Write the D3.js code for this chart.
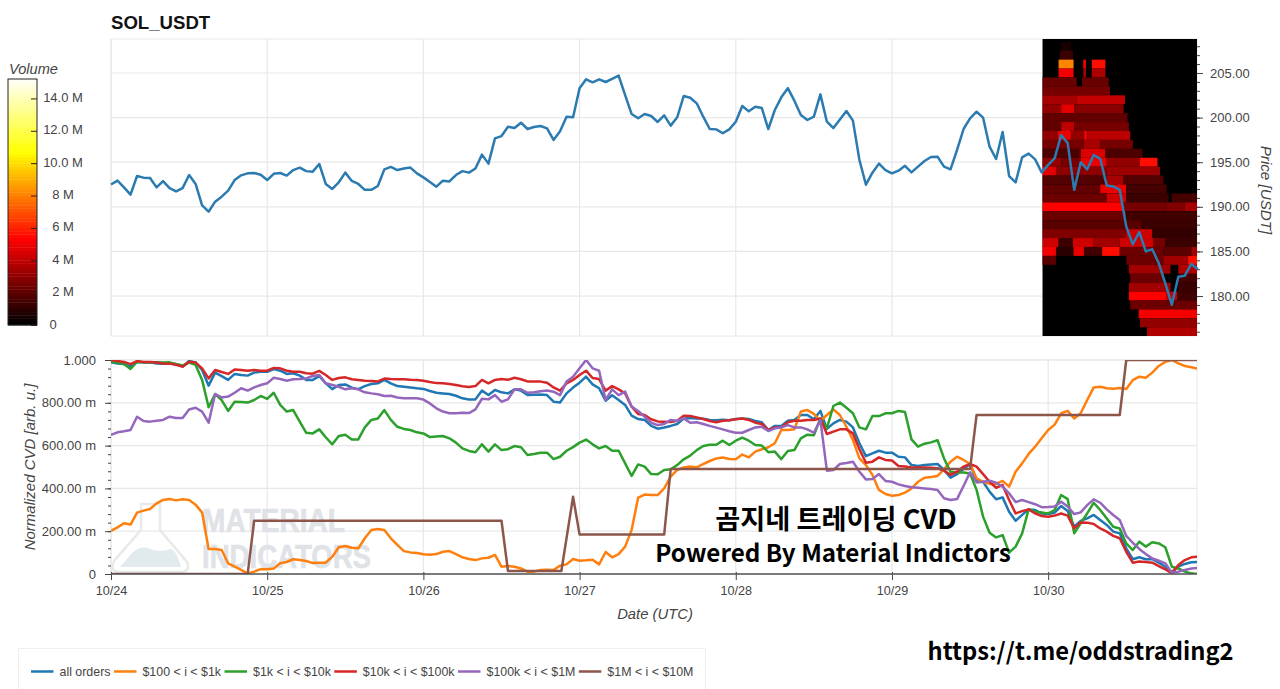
<!DOCTYPE html>
<html><head><meta charset="utf-8">
<script src="https://cdn.jsdelivr.net/npm/d3@7/dist/d3.min.js"></script>
<style>
html,body{margin:0;padding:0;background:#fff;overflow:hidden}
text{font-family:"Liberation Sans",Arial,sans-serif}
</style></head><body><svg id="c" width="1280" height="689"></svg>
<script>
const title = "SOL_USDT";
const dayTicks = [0,24,48,72,96,120,144];
const dayLabels = ["10/24","10/25","10/26","10/27","10/28","10/29","10/30"];
const priceTicks = [180,185,190,195,200,205];
const cvdTicks = [0,200,400,600,800,1000];
const cvdTickLabels = ["0","200.00 m","400.00 m","600.00 m","800.00 m","1.000"];
const volumeTicks = [0,2,4,6,8,10,12,14];
const volumeTickLabels = ["0","2 M","4 M","6 M","8 M","10.0 M","12.0 M","14.0 M"];
const seriesNames = ["all orders","$100 < i < $1k","$1k < i < $10k","$10k < i < $100k","$100k < i < $1M","$1M < i < $10M"];
const seriesColors = ["#1f77b4","#ff7f0e","#2ca02c","#d62728","#9467bd","#8c564b"];

// hourly close price
const price = [192.5,192.93,192.18,191.36,193.45,193.27,193.23,192.18,192.89,192.1,
191.73,192.1,193.56,192.56,190.16,189.45,190.58,191.14,191.81,193.0,
193.53,193.75,193.79,193.6,193.0,193.7,193.79,193.5,194.12,194.39,
194.0,193.94,194.8,192.56,192.0,192.75,193.83,192.9,192.56,191.9,
191.9,192.33,194.2,194.47,194.12,194.3,194.4,193.75,193.3,192.78,
192.26,192.93,192.85,193.56,194.0,193.83,194.3,195.85,194.84,197.67,
197.93,198.98,198.83,199.43,198.72,198.95,199.06,198.8,197.5,198.46,
200.1,200.03,203.28,204.29,203.95,204.29,203.99,204.33,204.7,202.53,
200.4,199.92,200.4,200.18,199.51,200.25,199.1,200.03,202.42,202.23,
201.6,200.1,198.72,198.68,198.24,198.68,199.54,201.3,200.7,201.22,
201.07,198.72,200.85,202.27,203.3,201.9,200.29,199.73,200.1,202.6,
199.54,198.83,199.8,200.74,199.66,195.25,192.48,193.83,194.84,194.12,
193.75,194.05,194.6,193.86,194.5,195.13,195.58,195.62,194.5,194.2,
196.37,198.72,199.92,200.66,199.99,196.74,195.36,198.38,193.45,192.74,
195.55,195.96,195.32,193.86,194.7,195.46,198.04,197.14,191.9,195.0,
194.2,195.8,195.38,192.4,192.28,191.9,187.8,185.8,187.18,185.0,
185.24,183.67,181.42,179.03,182.17,182.28,183.6,183.0];

// normalized CVD, hourly, in milli-units
const cvdAll = [989,984,981,969,991,988,989,984,983,984,
980,969,995,989,953,880,941,925,907,935,
930,927,941,945,945,958,950,935,938,927,
907,907,925,891,864,883,886,871,864,878,
888,891,907,891,878,875,872,868,865,855,
847,844,841,833,821,815,816,857,836,860,
849,844,863,857,836,838,839,836,805,801,
844,871,894,922,886,868,810,835,813,790,
740,724,720,692,679,685,692,701,726,729,
727,726,720,718,721,718,724,727,724,715,
709,673,692,692,716,720,743,743,723,762,
678,704,720,712,685,611,551,564,576,567,
567,548,545,509,505,509,512,514,486,450,
467,491,514,436,431,385,349,358,291,249,
276,302,299,283,280,287,318,294,221,248,
260,276,252,229,198,190,120,69,78,69,
69,53,34,9,34,47,55,56];
const cvd100 = [201,218,237,231,287,296,304,330,346,350,
344,349,346,324,287,117,117,112,50,34,
19,2,11,23,22,26,50,56,69,65,
61,51,53,53,81,125,131,123,120,167,
206,210,206,167,136,107,101,98,92,90,
93,104,107,93,78,70,65,73,76,89,
34,37,34,26,11,11,19,20,19,39,
45,70,62,64,67,45,103,78,93,128,
206,357,371,369,369,400,455,486,498,502,
498,514,528,540,544,537,536,558,545,572,
583,592,611,673,673,676,759,766,748,716,
743,769,743,688,626,540,509,463,393,374,
366,369,380,400,431,450,453,458,489,525,
548,533,514,447,431,421,421,435,408,478,
517,561,595,634,673,698,751,762,727,751,
813,872,875,868,866,869,864,906,922,917,
941,972,991,1000,984,972,966,959];
const cvd1k = [992,988,981,958,992,989,989,989,988,989,
981,974,988,977,907,779,841,813,762,805,
804,801,813,832,818,847,790,759,766,712,
660,657,676,639,606,645,651,629,629,685,
720,727,766,720,688,678,673,662,657,640,
643,645,634,614,587,575,569,606,572,606,
579,583,598,592,556,561,567,567,537,548,
576,593,614,628,606,587,598,576,576,517,
458,512,502,467,466,486,489,509,536,553,
579,598,604,604,623,603,623,637,623,603,
600,569,572,537,575,579,634,651,648,727,
681,785,801,777,751,685,676,738,738,751,
751,762,757,629,595,609,615,625,540,478,
474,474,470,393,268,193,171,182,100,128,
190,302,291,287,283,299,369,350,190,237,
283,333,299,260,221,213,143,112,151,128,
148,143,125,34,26,11,3,0];
const cvd10k = [1000,995,991,981,995,991,991,988,984,983,
978,969,992,988,961,914,953,944,935,956,
953,950,953,950,950,963,961,950,945,945,
938,936,949,930,907,916,919,910,907,903,
902,900,913,911,910,910,908,907,903,897,
892,891,888,883,877,874,878,907,891,907,
911,908,917,910,900,899,899,894,872,857,
891,907,930,950,916,911,857,878,863,844,
782,748,743,723,713,712,710,716,740,738,
732,724,715,709,716,718,723,727,720,707,
701,673,685,685,709,716,716,720,720,727,
654,665,676,676,657,583,520,525,545,533,
530,505,502,498,498,498,497,494,483,463,
478,502,514,502,467,431,403,416,346,283,
294,302,283,271,268,273,283,273,213,241,
240,234,213,198,178,167,104,53,58,56,
53,37,22,3,42,65,78,81];
const cvd100k = [650,662,667,673,735,715,712,716,720,735,
729,729,769,777,759,707,841,825,829,847,
868,857,872,883,891,917,911,903,910,911,
914,925,930,891,883,875,863,868,863,849,
844,840,832,833,825,821,821,821,815,797,
774,759,751,751,754,752,769,819,816,836,
805,816,863,863,847,849,854,857,852,836,
899,922,961,1000,961,950,813,863,836,852,
782,762,735,707,696,701,720,716,727,707,
709,701,692,684,676,667,660,660,673,685,
688,668,681,685,696,685,685,676,660,720,
483,486,514,519,525,478,442,444,467,435,
431,419,411,405,403,400,397,393,354,346,
350,411,475,428,431,436,427,408,377,336,
346,336,326,312,313,315,338,315,280,288,
322,349,333,302,276,252,178,146,117,93,
73,62,50,6,11,19,26,28];
// sparse: [hour, value]
const cvd1m = [[0,0],[21,0],[22,249],[60,249],[61,14],[69.2,14],[71,361],[72,184],[85,184],[86,491],[132,491],[133,743],[155,743],[156,1000],[166.87,1000]];

// liquidity heat map bands: [price bin, hour from, hour to, volume in M]
const heatBands = [
[208,146,147.5,0.5],[207,145.8,147.8,1.2],
[206,145.6,147.9,8],[206,149.4,149.8,5.2],[206,150.7,152.8,5.5],
[205,145.6,147.9,5],[205,149.4,149.8,3.5],[205,150.7,152.8,3.5],
[204,143.1,148.4,2.1],[204,149.2,153.3,2.1],
[203,143.1,153.5,2.4],
[202,143.1,148.4,3.4],[202,148.4,155.8,4.0],
[201,143.1,146,3.0],[201,146,148,4.6],[201,148,155.6,2.8],
[200,143.1,156.2,2.0],
[199,143.1,146,2.0],[199,146,148,3.9],[199,148,156.4,2.4],
[198,143.1,145.5,3.0],[198,145.5,147.5,4.8],[198,147.5,149.5,3.0],[198,149.5,150,4.8],[198,150,156.6,3.8],
[197,143.1,149.5,2.4],[197,149.5,152,3.4],[197,152,157,2.4],
[196,143.1,149,1.6],[196,149,152.8,4.5],[196,152.8,158.5,1.6],
[195,143.1,146,3.0],[195,146,149,2.4],[195,149,153,4.8],[195,153,158.1,3.0],[195,158.1,160.8,5.5],
[194,143.1,145.2,4.6],[194,145.2,153,2.9],[194,153,161.2,3.2],
[193,143.1,153,1.7],[193,153,155.5,3.4],[193,155.5,161.7,1.7],
[192,143.1,152,2.0],[192,152,156,4.8],[192,156,162.2,1.4],
[191,143.1,153,2.2],[191,153,156,4.2],[191,156,162.5,1.2],[191,163,166.9,1.4],
[190,143.1,155.5,5.2],[190,155.5,162,2.4],[190,162,165,2.6],[190,165,166.9,3.4],
[189,143.1,156,2.2],[189,156,166.9,1.3],
[188,143.1,158.5,1.8],[188,158.5,166.9,1.2],
[187,143.1,156,2.6],[187,156,160,4.2],[187,160,166.9,1.0],
[186,143.1,145.6,4.2],[186,145.6,147.8,1.2],[186,147.8,151,4.2],[186,151,155,3.3],[186,155,160.2,4.2],[186,160.2,162,2.4],[186,162,166.9,1.2],
[185,143.1,145.2,5.0],[185,145.2,147.9,0.9],[185,147.9,149.5,4.8],[185,149.5,152.3,1.3],[185,152.3,155,5.5],[185,155,161.7,2.2],[185,161.7,166,1.9],[185,166,166.9,3.4],
[184,143.1,145.2,1.8],[184,156,161.7,2.2],[184,161.7,165.5,3.3],[184,165.5,166.9,5.5],
[183,156.4,162.8,3.3],[183,164,166.9,3.6],
[182,156.6,161.7,2.2],[182,164,166.9,1.4],
[181,156.4,162.8,3.3],[181,164,166.9,1.2],
[180,156.4,162.2,5.2],[180,162.2,163.8,4.0],[180,163.8,166.9,1.3],
[179,156.6,166.9,2.2],
[178,157.9,166.9,5.0],
[177,158.1,166.9,3.0],
[176,159.2,166.9,3.6]];

const W=1280,H=689;
const svg=d3.select("#c");
const L=111,R=1197;
const x=d3.scaleLinear().domain([0,166.87]).range([L,R]);
const yP=d3.scaleLinear().domain([175.52,208.81]).range([336,39]);
const yC=d3.scaleLinear().domain([0,1000]).range([574,360]);
const heatColor=d3.scaleLinear().domain([0,5.2,10.6,15.2]).range(["#000000","#ff0000","#ffff00","#ffffff"]);
const yV=d3.scaleLinear().domain([0,15.2]).range([325,79]);
const gridC="#e8e8e8", axisC="#444", txtC="#444";

const defs=svg.append("defs");
defs.append("clipPath").attr("id","cvdClip").append("rect").attr("x",L).attr("y",360).attr("width",R-L).attr("height",214);
defs.append("clipPath").attr("id","heatClip").append("rect").attr("x",x(143.1)).attr("y",39).attr("width",R-x(143.1)).attr("height",297);
defs.append("filter").attr("id","soft").append("feGaussianBlur").attr("stdDeviation",0.6);

// title
svg.append("text").attr("x",111).attr("y",29).attr("font-size",18.6).attr("font-weight",700).attr("fill","#111").text(title);

// panels: grid
function frame(yTop,yBot,ticks,yS){
  const g=svg.append("g");
  g.append("rect").attr("x",L).attr("y",yTop).attr("width",R-L).attr("height",yBot-yTop).attr("fill","none").attr("stroke",gridC);
  g.selectAll("line.v").data(dayTicks).join("line").attr("x1",d=>x(d)).attr("x2",d=>x(d)).attr("y1",yTop).attr("y2",yBot).attr("stroke",gridC).attr("stroke-width",1.2);
  g.selectAll("line.h").data(ticks).join("line").attr("class","h").attr("x1",L).attr("x2",R).attr("y1",d=>yS(d)).attr("y2",d=>yS(d)).attr("stroke",gridC).attr("stroke-width",1.2);
}
frame(39,336,priceTicks,yP);
frame(360,574,cvdTicks,yC);

// watermark
const wm=svg.append("g");
wm.append("path").attr("d","M146,504 L160,504 L160,530 L187,562 Q191,572 180,572 L120,572 Q109,572 114,561 L141,530 L141,504 Z").attr("fill","none").attr("stroke","#e9e9e9").attr("stroke-width",2.5);
wm.append("path").attr("d","M120,567 L133,552 Q143,545 150,549 Q162,553 170,549 Q176,549 181,567 Z").attr("fill","#e1eaed");
wm.append("text").attr("x",202).attr("y",532).attr("font-size",33).attr("font-weight",700).attr("fill","#dfe3e7").attr("stroke","#dfe3e7").attr("stroke-width",0.7).attr("textLength",143).attr("lengthAdjust","spacingAndGlyphs").text("MATERIAL");
wm.append("text").attr("x",202).attr("y",568).attr("font-size",33).attr("font-weight",700).attr("fill","#dfe3e7").attr("stroke","#dfe3e7").attr("stroke-width",0.7).attr("textLength",169).attr("lengthAdjust","spacingAndGlyphs").text("INDICATORS");

// heat map
const heatOuter=svg.append("g").attr("clip-path","url(#heatClip)");
heatOuter.append("rect").attr("x",x(143.1)).attr("y",39).attr("width",R-x(143.1)).attr("height",297).attr("fill",heatColor(0));
const heatG=heatOuter.append("g").attr("filter","url(#soft)");
heatG.selectAll("rect.b").data(heatBands).join("rect").attr("class","b")
 .attr("x",d=>x(d[1])).attr("width",d=>x(d[2])-x(d[1]))
 .attr("y",d=>yP(d[0]+0.5)).attr("height",d=>yP(d[0]-0.5)-yP(d[0]+0.5))
 .attr("fill",d=>heatColor(d[3]));

// price line
const lineFn=(ys)=>d3.line().x((d,i)=>x(i)).y(d=>ys(d));
svg.append("path").attr("d",lineFn(yP)(price)).attr("fill","none").attr("stroke","#2b7bb0").attr("stroke-width",2.5).attr("stroke-linejoin","round");

// CVD lines
const cvdG=svg.append("g").attr("clip-path","url(#cvdClip)");
[cvdAll,cvd100,cvd1k,cvd10k,cvd100k].forEach((s,i)=>{
  cvdG.append("path").attr("d",lineFn(yC)(s)).attr("fill","none").attr("stroke",seriesColors[i]).attr("stroke-width",2.5).attr("stroke-linejoin","round");
});
cvdG.append("path").attr("d",d3.line().x(d=>x(d[0])).y(d=>yC(d[1]))(cvd1m)).attr("fill","none").attr("stroke",seriesColors[5]).attr("stroke-width",2.5).attr("stroke-linejoin","round");

// axes
function style(g){g.selectAll("text").attr("fill",txtC).attr("font-size",13).attr("font-family",'"Liberation Sans",Arial,sans-serif');g.selectAll("line").attr("stroke",axisC).attr("stroke-width",1);g.select(".domain").remove();}
const axR=svg.append("g").attr("transform",`translate(${R},0)`).call(d3.axisRight(yP).tickValues(priceTicks).tickFormat(d3.format(".2f")).tickSize(6).tickPadding(7));
style(axR);
const axRm=svg.append("g").attr("transform",`translate(${R},0)`).call(d3.axisRight(yP).tickValues(d3.range(176,209)).tickFormat("").tickSize(3));
style(axRm);
const axL=svg.append("g").attr("transform",`translate(${L},0)`).call(d3.axisLeft(yC).tickValues(cvdTicks).tickFormat((d,i)=>cvdTickLabels[i]).tickSize(6).tickPadding(9));
style(axL);
const axLm=svg.append("g").attr("transform",`translate(${L},0)`).call(d3.axisLeft(yC).tickValues(d3.range(0,1001,40)).tickFormat("").tickSize(3));
style(axLm);
const axB=svg.append("g").attr("transform","translate(0,574)").call(d3.axisBottom(x).tickValues(dayTicks).tickFormat((d,i)=>dayLabels[i]).tickSize(6).tickPadding(6));
style(axB); axB.selectAll("line").attr("y1",-2);
axB.selectAll("text").attr("font-size",12.6);
svg.append("line").attr("x1",L).attr("x2",R).attr("y1",574).attr("y2",574).attr("stroke","#555").attr("stroke-width",1.6);

// axis titles
svg.append("text").attr("x",655).attr("y",619).attr("text-anchor","middle").attr("font-size",14.8).attr("font-style","italic").attr("fill",txtC).text("Date (UTC)");
svg.append("text").attr("transform","translate(1261,190) rotate(90)").attr("text-anchor","middle").attr("font-size",15.2).attr("font-style","italic").attr("fill",txtC).text("Price [USDT]");
svg.append("text").attr("transform","translate(35,467) rotate(-90)").attr("text-anchor","middle").attr("font-size",15).attr("font-style","italic").attr("fill",txtC).text("Normalized CVD [arb. u.]");

// colour bar
svg.append("text").attr("x",9).attr("y",74).attr("font-size",14.6).attr("font-style","italic").attr("fill",txtC).text("Volume");
const levels=d3.range(0,15.2,0.2);
svg.append("g").selectAll("rect").data(levels).join("rect").attr("x",8).attr("width",29)
 .attr("y",d=>yV(d+0.2)).attr("height",d=>yV(d)-yV(d+0.2)+0.4).attr("fill",d=>heatColor(d));
svg.append("rect").attr("x",8).attr("y",79).attr("width",29).attr("height",246).attr("fill","none").attr("stroke","#222");
const axV=svg.append("g").attr("transform","translate(37,0)").call(d3.axisLeft(yV).tickValues(volumeTicks).tickFormat("").tickSize(6));
style(axV);axV.selectAll("line").attr("stroke","#3a1a10");
svg.append("g").selectAll("text").data(volumeTicks).join("text")
 .attr("x",(d,i)=>i===0?53:63).attr("y",d=>yV(d)+3.5).attr("text-anchor","middle").attr("font-size",13).attr("fill",txtC).text((d,i)=>volumeTickLabels[i]);

// overlays
const kr='"Noto Sans CJK KR","Noto Sans",sans-serif';
svg.append("text").attr("x",836).attr("y",529).attr("text-anchor","middle").attr("font-size",27.2).attr("font-weight",700).attr("fill","#000").style("font-family",kr).text("곰지네 트레이딩 CVD");
svg.append("text").attr("x",833).attr("y",562).attr("text-anchor","middle").attr("font-size",24.2).attr("font-weight",700).attr("fill","#000").style("font-family",kr).text("Powered By Material Indictors");
svg.append("text").attr("x",1080.5).attr("y",660).attr("text-anchor","middle").attr("font-size",23.7).attr("font-weight",700).attr("fill","#000").style("font-family",kr).text("https://t.me/oddstrading2");

// legend
svg.append("rect").attr("x",18.5).attr("y",648.5).attr("width",687).attr("height",50).attr("fill","#fff").attr("stroke","#eeeeee");
const lg=svg.append("g");
let lx=31;
seriesNames.forEach((n,i)=>{
  lg.append("line").attr("x1",lx).attr("x2",lx+22.5).attr("y1",671.5).attr("y2",671.5).attr("stroke",seriesColors[i]).attr("stroke-width",2.5);
  const t=lg.append("text").attr("x",lx+28.5).attr("y",676).attr("font-size",12.4).attr("fill",txtC).text(n);
  lx+=28.5+t.node().getComputedTextLength()+3.5;
});
</script></body></html>
